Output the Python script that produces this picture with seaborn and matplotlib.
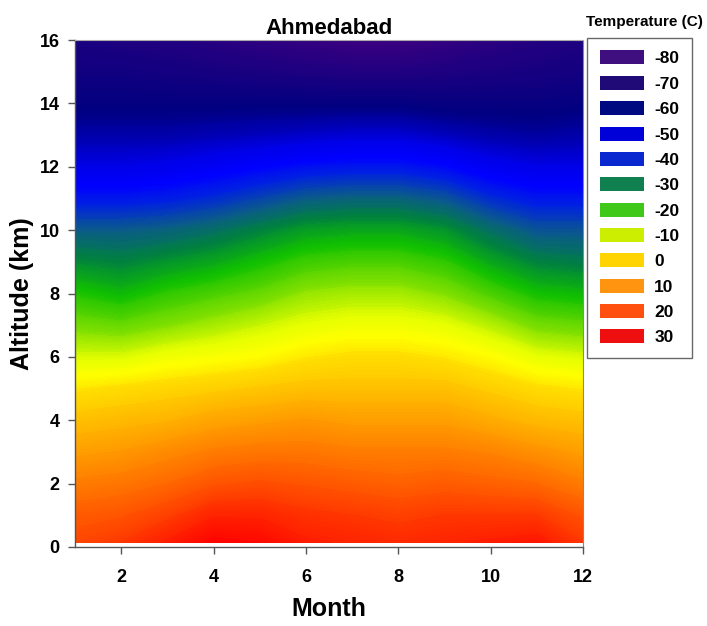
import numpy as np
import pandas as pd
import seaborn as sns
import matplotlib
matplotlib.use("Agg")
import matplotlib.pyplot as plt
from matplotlib.colors import LinearSegmentedColormap
from matplotlib.patches import Patch

# ---------------- data ----------------
months = [1, 2, 3, 4, 5, 6, 7, 8, 9, 10, 11, 12]
altitudes = [0.15, 1, 2, 3, 4, 5, 6, 7, 8, 9, 10, 11, 12, 13, 14, 15, 16]

# temperature (C) profile per month, from lowest to highest altitude
t_m01 = [22, 19, 14, 9, 4, -1, -7, -13, -19, -26, -33, -42, -50, -56, -61, -65, -68]
t_m02 = [24, 20, 15, 10, 5, 0, -7, -14, -21, -27, -33, -42, -50, -56, -61, -65, -69]
t_m03 = [28, 23, 17, 12, 6, 1, -5, -12, -18, -25, -32, -41, -49, -56, -61, -66, -70]
t_m04 = [32, 27, 20, 14, 8, 2, -4, -10, -16, -23, -30, -39, -47, -55, -61, -67, -72]
t_m05 = [31, 27, 21, 15, 9, 3, -3, -8, -14, -20, -27, -36, -45, -54, -61, -68, -74]
t_m06 = [28, 25, 20, 15, 10, 4, -1, -6, -11, -17, -24, -33, -43, -53, -61, -69, -76]
t_m07 = [27, 24, 19, 14, 9, 4, 0, -5, -10, -16, -23, -32, -42, -52, -61, -70, -78]
t_m08 = [26, 23, 18, 14, 9, 4, 0, -5, -10, -16, -23, -32, -42, -52, -61, -70, -78]
t_m09 = [27, 24, 19, 14, 9, 4, -1, -6, -12, -18, -25, -34, -44, -54, -62, -69, -76]
t_m10 = [28, 24, 18, 13, 7, 2, -3, -9, -16, -23, -30, -39, -48, -56, -62, -68, -73]
t_m11 = [29, 24, 17, 11, 5, 0, -6, -13, -20, -27, -34, -42, -50, -57, -62, -67, -71]
t_m12 = [24, 20, 14, 9, 4, -1, -7, -14, -21, -28, -34, -42, -50, -56, -61, -66, -69]

legend_values = [-80, -70, -60, -50, -40, -30, -20, -10, 0, 10, 20, 30]
legend_colors = ["#3f0f7f", "#1f0a78", "#000a80", "#0000d8", "#0a28d0", "#108050",
                 "#40c818", "#ccee00", "#ffd400", "#ff9410", "#ff5010", "#ee1010"]

# ---------------- build table ----------------
profiles = [t_m01, t_m02, t_m03, t_m04, t_m05, t_m06,
            t_m07, t_m08, t_m09, t_m10, t_m11, t_m12]
df = pd.DataFrame(np.array(profiles).T, index=altitudes, columns=months)

# continuous colour ramp (temperature, colour)
ramp = [(-80, "#400080"), (-70, "#200080"), (-60, "#000080"), (-50, "#0000e8"),
        (-45, "#0000ff"), (-40, "#0022e0"), (-33, "#0a5a8a"), (-27, "#008040"),
        (-20, "#10c000"), (-12, "#80e000"), (-6, "#e8ff00"), (-3, "#ffff00"),
        (0, "#ffdd00"), (10, "#ff9900"), (20, "#ff5500"), (30, "#ff1000"),
        (33, "#ff0000")]
vmin, vmax = ramp[0][0], ramp[-1][0]
cmap = LinearSegmentedColormap.from_list(
    "temp", [((t - vmin) / (vmax - vmin), c) for t, c in ramp])

# ---------------- plot ----------------
sns.set_theme(style="ticks")
plt.rcParams["font.family"] = ["Liberation Sans", "DejaVu Sans"]
plt.rcParams["font.weight"] = "bold"
plt.rcParams["text.color"] = "black"
plt.rcParams["axes.labelcolor"] = "black"
plt.rcParams["xtick.color"] = "black"
plt.rcParams["ytick.color"] = "black"

fig = plt.figure(figsize=(7.07, 6.26), dpi=100)
ax = fig.add_axes([75 / 707, 0.1262, 508 / 707, 0.8099])

X, Y = np.meshgrid(df.columns.values, df.index.values)
levels = np.linspace(vmin, vmax, 225)
ax.contourf(X, Y, df.values, levels=levels, cmap=cmap, vmin=vmin, vmax=vmax,
            extend="both", antialiased=False)

ax.set_xlim(1, 12)
ax.set_ylim(0, 16)
ax.set_xticks([2, 4, 6, 8, 10, 12])
ax.set_yticks(range(0, 17, 2))
ax.spines["top"].set_color("#aaaaaa")
ax.spines["top"].set_linewidth(0.8)
ax.spines["right"].set_color("#888888")
ax.spines["right"].set_linewidth(0.8)
for s in ["left", "bottom"]:
    ax.spines[s].set_color("#555555")
    ax.spines[s].set_linewidth(1.0)
ax.tick_params(direction="out", length=5, width=1, color="#555555",
               labelsize=13, labelcolor="black")
ax.tick_params(axis="x", pad=11)
ax.tick_params(axis="y", pad=6)
for lab in ax.get_xticklabels() + ax.get_yticklabels():
    lab.set_fontweight("bold")

ax.set_xlabel("Month", fontsize=18, fontweight="bold", labelpad=8)
ax.set_ylabel("Altitude (km)", fontsize=18, fontweight="bold", labelpad=4)
ax.set_title("Ahmedabad", fontsize=16, fontweight="bold", pad=4)

handles = [Patch(facecolor=c, edgecolor="none", label=str(v))
           for v, c in zip(legend_values, legend_colors)]
leg = fig.legend(handles=handles, loc="upper left",
                 bbox_to_anchor=(587 / 707, 1 - 38 / 626),
                 frameon=True, fancybox=False, edgecolor="#444444",
                 prop={"weight": "bold", "size": 12.5},
                 handlelength=2.55, handleheight=0.86, labelspacing=0.54,
                 borderpad=0.72, handletextpad=0.6, borderaxespad=0)
leg.get_frame().set_linewidth(1.0)
for t in leg.get_texts():
    t.set_color("black")
fig.text(703 / 707, 1 - 22 / 626, "Temperature (C)", ha="right", va="center",
         fontsize=11, fontweight="bold")

fig.savefig("out.png", dpi=100)
